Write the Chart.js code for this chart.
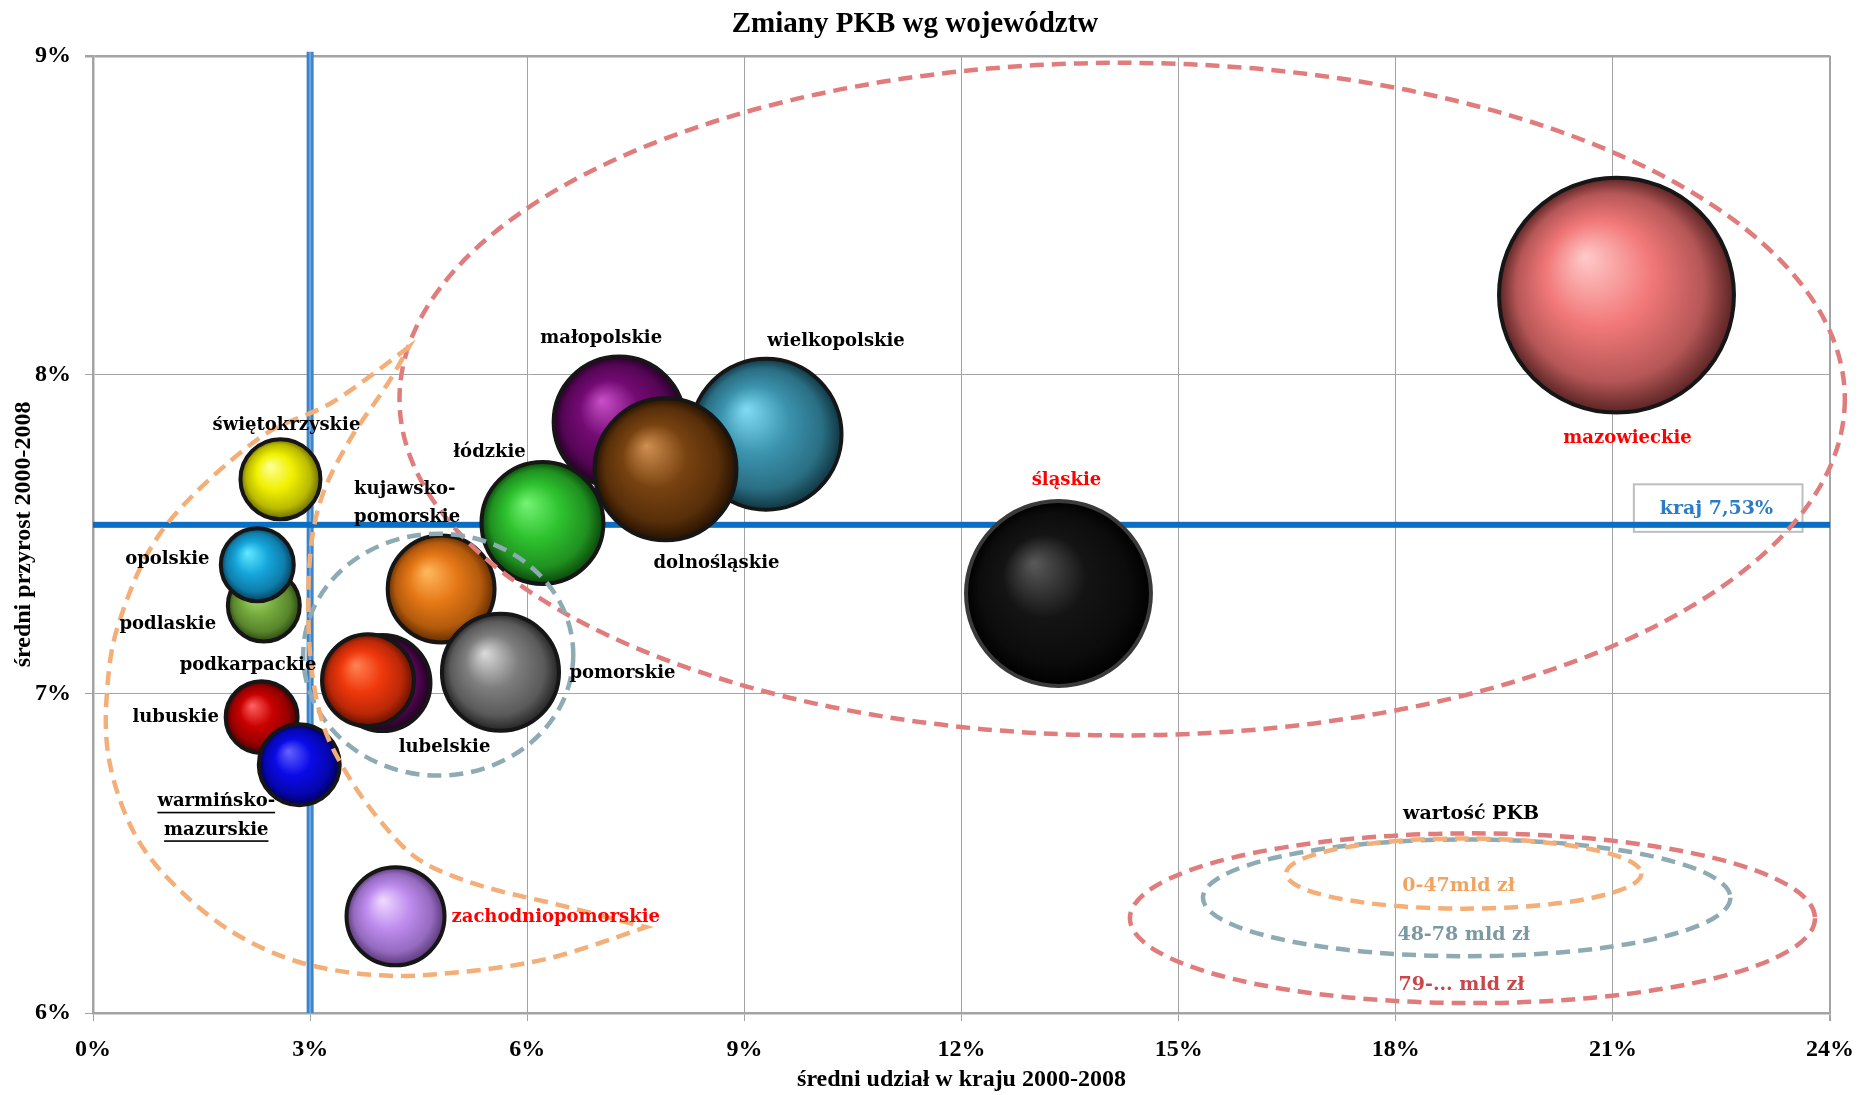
<!DOCTYPE html>
<html>
<head>
<meta charset="utf-8">
<script src="https://cdn.jsdelivr.net/npm/chart.js@4.4.1/dist/chart.umd.min.js"></script>
<style>
html,body{margin:0;padding:0;background:#fff;overflow:hidden}
canvas{display:block}
</style>
</head>
<body>
<canvas id="c" width="1858" height="1095"></canvas>
<script>
// ---------------- DATA ----------------
const regions = ['mazowieckie','śląskie','wielkopolskie','małopolskie','kujawsko-pomorskie','łódzkie','dolnośląskie','pomorskie','lubelskie','podkarpackie','podlaskie','opolskie','lubuskie','warmińsko-mazurskie','świętokrzyskie','zachodniopomorskie'];
// średni udział w kraju 2000-2008 (%)
const shareOfCountry = [21.05,13.34,9.30,7.27,4.81,6.21,7.91,5.63,4.00,3.80,2.36,2.27,2.33,2.85,2.59,4.18];
// średni przyrost 2000-2008 (%)
const avgGrowth = [8.25,7.315,7.814,7.852,7.329,7.536,7.704,7.068,7.034,7.043,7.277,7.405,6.927,6.778,7.673,6.303];
// wartość PKB (mld zł) -> bubble area
const gdpValue = [288,180,121,92,62,80,107.5,74,50.4,46.5,29.1,29.9,29.1,36.4,35.6,52.5];
const xTickValues = [0,3,6,9,12,15,18,21,24];
const yTickValues = [6,7,8,9];
const nationalGrowth = 7.53;
const thresholdShare = 3;
const gdpClassLabels = ['0-47mld zł','48-78 mld zł','79-... mld zł'];
const legendTitle = 'wartość PKB';

// ---------------- STYLE / LAYOUT ----------------
const K = 7.04; // px per sqrt(mld zł)
const BW = 4;
function bubbleRadius(v){ return Math.sqrt(v)*K - BW/2; }

const regionStyle = {
  'mazowieckie': {fill:'#F27878', hi:'#FFCACA', lo:'#5A2424', label:'#FF0000', dx:11, dy:[143]},
  'śląskie': {fill:'#141414', hi:'#5A5A5A', lo:'#000000', border:'#3A3A3A', label:'#FF0000', dx:8, dy:[-113]},
  'wielkopolskie': {fill:'#3B93AE', hi:'#80DCF4', lo:'#103642', dx:70, dy:[-93]},
  'małopolskie': {fill:'#740A74', hi:'#C850C8', lo:'#280028', dx:-18, dy:[-84]},
  'kujawsko-pomorskie': {fill:'#E67816', hi:'#FFBA60', lo:'#642C00', lines:['kujawsko-','pomorskie'], dx:-87, dy:[-100,-72], align:'left'},
  'łódzkie': {fill:'#2EC22E', hi:'#76F476', lo:'#0A460A', dx:-53, dy:[-71]},
  'dolnośląskie': {fill:'#784210', hi:'#D09050', lo:'#281200', dx:51, dy:[94]},
  'pomorskie': {fill:'#7E7E7E', hi:'#DCDCDC', lo:'#242424', dx:69, dy:[1], align:'left'},
  'lubelskie': {fill:'#6C0A6C', hi:'#B042B0', lo:'#200020', dx:62, dy:[64]},
  'podkarpackie': {fill:'#F0380C', hi:'#FF8454', lo:'#661000', dx:-120, dy:[-15]},
  'podlaskie': {fill:'#76AC3E', hi:'#B2E27E', lo:'#2A4810', dx:-96, dy:[19]},
  'opolskie': {fill:'#15A6DC', hi:'#64EAFF', lo:'#05405E', dx:-90, dy:[-5]},
  'lubuskie': {fill:'#CA0000', hi:'#FF6464', lo:'#480000', dx:-86, dy:[0]},
  'warmińsko-mazurskie': {fill:'#0A0AE8', hi:'#6464FF', lo:'#000058', lines:['warmińsko-','mazurskie'], dx:-83, dy:[37,65.5], underline:true},
  'świętokrzyskie': {fill:'#F0F000', hi:'#FFFF9C', lo:'#686800', dx:6, dy:[-54]},
  'zachodniopomorskie': {fill:'#BE8CEE', hi:'#F0DCFF', lo:'#583878', label:'#FF0000', dx:56, dy:[1], align:'left'}
};

// annotation shapes (in data units)
const bigRedEllipse = {cx:14.22, cy:7.924, rx:9.985, ry:1.054};
const grayEllipse = {cx:4.77, cy:7.123, rx:1.866, ry:0.379};
const orangeOuter = [[4.363,8.087],[3.313,7.915],[2.262,7.796],[0.991,7.523],[0.369,7.231],[0.189,6.990],[0.231,6.783],[0.549,6.573],[1.060,6.416],[1.889,6.259],[2.857,6.159],[3.962,6.118],[5.068,6.128],[6.312,6.172],[7.638,6.269]];
const orangeInner = [[7.638,6.269],[6.450,6.338],[5.345,6.400],[4.515,6.479],[3.962,6.604],[3.478,6.761],[3.161,6.918],[2.995,7.137],[2.995,7.420],[3.161,7.617],[3.548,7.796],[4.060,7.968],[4.363,8.087]];
const legendEllipses = [
  {cx:18.94, cy:6.437, rx:2.454, ry:0.110, color:'#F4AE78', text:'#F0A462', tx:18.87, ty:6.397},
  {cx:18.98, cy:6.361, rx:3.644, ry:0.183, color:'#8EABB4', text:'#7A99A3', tx:18.94, ty:6.244},
  {cx:19.06, cy:6.297, rx:4.733, ry:0.266, color:'#E07C7C', text:'#C8474A', tx:18.91, ty:6.087}
];
const legendTitlePos = {x:19.04, y:6.625};
const krajBox = {x1:21.29, x2:23.62, yTop:7.657, yBottom:7.508, tx:22.43, ty:7.578};

const ORANGE = '#F4AE78', GRAY = '#8EABB4', RED = '#E07C7C';

function hexToRgb(h){ h=h.replace('#',''); return [parseInt(h.substr(0,2),16),parseInt(h.substr(2,2),16),parseInt(h.substr(4,2),16)]; }
function mix(a,b,t){ const A=hexToRgb(a),B=hexToRgb(b); return 'rgb('+A.map((v,i)=>Math.round(v+(B[i]-v)*t)).join(',')+')'; }

function sphereFill(c){
  const i = c.dataIndex; const st = regionStyle[regions[i]];
  const chart = c.chart;
  if (c.type !== 'data' || !chart.chartArea) return st.fill;
  const cx = chart.scales.x.getPixelForValue(shareOfCountry[i]);
  const cy = chart.scales.y.getPixelForValue(avgGrowth[i]);
  const r = bubbleRadius(gdpValue[i]);
  if (!isFinite(cx) || !isFinite(cy)) return st.fill;
  const g = chart.ctx.createRadialGradient(cx - r*0.27, cy - r*0.33, 0, cx, cy, r);
  g.addColorStop(0, st.hi);
  g.addColorStop(0.45, st.fill);
  g.addColorStop(0.8, mix(st.fill, st.lo, 0.4));
  g.addColorStop(1, st.lo);
  return g;
}

function smoothTo(ctx, pts){
  for (let i = 0; i < pts.length - 1; i++) {
    const p0 = pts[i-1] || pts[i], p1 = pts[i], p2 = pts[i+1], p3 = pts[i+2] || pts[i+1];
    ctx.bezierCurveTo(p1[0] + (p2[0]-p0[0])/6, p1[1] + (p2[1]-p0[1])/6,
                      p2[0] - (p3[0]-p1[0])/6, p2[1] - (p3[1]-p1[1])/6, p2[0], p2[1]);
  }
}

function drawEllipse(ctx, xs, ys, e, color){
  const cx = xs.getPixelForValue(e.cx), cy = ys.getPixelForValue(e.cy);
  const rx = Math.abs(xs.getPixelForValue(e.cx + e.rx) - cx);
  const ry = Math.abs(ys.getPixelForValue(e.cy + e.ry) - cy);
  ctx.strokeStyle = color;
  ctx.beginPath(); ctx.ellipse(cx, cy, rx, ry, 0, 0, Math.PI*2); ctx.stroke();
}

const overlay = {
  id: 'overlay',
  beforeDatasetsDraw(chart){
    const {ctx, chartArea: a, scales: {x, y}} = chart;
    ctx.save();
    // kraj box
    const bx1 = x.getPixelForValue(krajBox.x1), bx2 = x.getPixelForValue(krajBox.x2);
    const by1 = y.getPixelForValue(krajBox.yTop), by2 = y.getPixelForValue(krajBox.yBottom);
    ctx.fillStyle = '#FFFFFF'; ctx.fillRect(bx1, by1, bx2-bx1, by2-by1);
    ctx.strokeStyle = '#BEBEBE'; ctx.lineWidth = 2; ctx.strokeRect(bx1, by1, bx2-bx1, by2-by1);
    ctx.fillStyle = '#2A7CC6';
    ctx.font = 'bold 19px "DejaVu Serif"';
    ctx.textAlign = 'center'; ctx.textBaseline = 'middle';
    ctx.fillText('kraj ' + nationalGrowth.toFixed(2).replace('.', ',') + '%', x.getPixelForValue(krajBox.tx), y.getPixelForValue(krajBox.ty));
    // reference lines
    const vx = x.getPixelForValue(thresholdShare);
    ctx.fillStyle = '#3A84CC'; ctx.fillRect(vx - 3.5, a.top - 4, 7, a.bottom - a.top + 4);
    ctx.fillStyle = '#6FA6DC'; ctx.fillRect(vx - 1, a.top - 4, 2, a.bottom - a.top + 4);
    const hy = y.getPixelForValue(nationalGrowth);
    ctx.fillStyle = '#0A6FC2'; ctx.fillRect(a.left, hy - 3, a.right - a.left, 6);
    ctx.restore();
  },
  afterDatasetsDraw(chart){
    const {ctx, scales: {x, y}} = chart;
    ctx.save();
    ctx.lineWidth = 4.5;
    ctx.setLineDash([14, 8]);
    drawEllipse(ctx, x, y, bigRedEllipse, RED);
    drawEllipse(ctx, x, y, grayEllipse, GRAY);
    // orange crescent
    const toPx = p => [x.getPixelForValue(p[0]), y.getPixelForValue(p[1])];
    const outer = orangeOuter.map(toPx), inner = orangeInner.map(toPx);
    ctx.strokeStyle = ORANGE;
    ctx.beginPath(); ctx.moveTo(outer[0][0], outer[0][1]);
    smoothTo(ctx, outer); smoothTo(ctx, inner); ctx.closePath(); ctx.stroke();
    // legend ellipses
    legendEllipses.slice().reverse().forEach(e => drawEllipse(ctx, x, y, e, e.color));
    ctx.setLineDash([]);
    // legend texts
    ctx.textAlign = 'center'; ctx.textBaseline = 'middle';
    ctx.font = 'bold 19px "DejaVu Serif"';
    ctx.fillStyle = '#000';
    ctx.fillText(legendTitle, x.getPixelForValue(legendTitlePos.x), y.getPixelForValue(legendTitlePos.y));
    legendEllipses.forEach((e, k) => {
      ctx.fillStyle = e.text;
      ctx.fillText(gdpClassLabels[k], x.getPixelForValue(e.tx), y.getPixelForValue(e.ty));
    });
    // bubble labels
    ctx.font = 'bold 18px "DejaVu Serif"';
    regions.forEach((name, i) => {
      const st = regionStyle[name];
      const cx = x.getPixelForValue(shareOfCountry[i]), cy = y.getPixelForValue(avgGrowth[i]);
      const lines = st.lines || [name];
      ctx.fillStyle = st.label || '#000';
      ctx.textAlign = st.align || 'center';
      lines.forEach((t, k) => {
        const tx = cx + st.dx, ty = cy + st.dy[k];
        ctx.fillText(t, tx, ty);
        if (st.underline) {
          const w = ctx.measureText(t).width;
          ctx.fillRect(tx - w/2, ty + 10, w, 1.6);
        }
      });
    });
    ctx.restore();
  }
};

Chart.defaults.font.family = '"Liberation Serif", "Times New Roman", serif';
Chart.defaults.color = '#000';

new Chart(document.getElementById('c'), {
  type: 'bubble',
  data: {
    datasets: [{
      label: 'PKB',
      data: regions.map((n, i) => ({x: shareOfCountry[i], y: avgGrowth[i], r: bubbleRadius(gdpValue[i])})),
      backgroundColor: sphereFill,
      borderColor: c => (regionStyle[regions[c.dataIndex]] || {}).border || '#161616',
      borderWidth: BW,
      hoverBorderWidth: BW,
      clip: false
    }]
  },
  options: {
    responsive: false,
    animation: false,
    events: [],
    layout: {autoPadding: false, padding: {left: 0, right: 28, top: 0, bottom: 0}},
    plugins: {
      legend: {display: false},
      tooltip: {enabled: false},
      title: {
        display: true,
        text: 'Zmiany PKB wg województw',
        font: {size: 29, weight: 'bold'},
        color: '#000',
        padding: {top: 7, bottom: 14}
      }
    },
    scales: {
      x: {
        type: 'linear',
        min: xTickValues[0], max: xTickValues[xTickValues.length-1],
        afterBuildTicks: s => { s.ticks = xTickValues.map(v => ({value: v})); },
        ticks: {callback: v => v + '%', font: {size: 24, weight: 'bold'}, color: '#000', padding: 14, maxRotation: 0, autoSkip: false},
        grid: {color: '#A3A3A3', lineWidth: c => (c.tick && c.tick.value === 24) ? 2 : 1, tickLength: 8, tickColor: '#A3A3A3'},
        border: {color: '#A3A3A3', width: 2.5},
        title: {display: true, text: 'średni udział w kraju 2000-2008', font: {size: 24, weight: 'bold'}, color: '#000', padding: {top: 0, bottom: 1}},
        afterFit: s => { s.height = 82; s.paddingLeft = 0; s.paddingRight = 0; }
      },
      y: {
        type: 'linear',
        min: yTickValues[0], max: yTickValues[yTickValues.length-1],
        afterBuildTicks: s => { s.ticks = yTickValues.map(v => ({value: v})); },
        ticks: {callback: v => v + '%', font: {size: 24, weight: 'bold'}, color: '#000', padding: 14, autoSkip: false},
        grid: {color: '#A3A3A3', lineWidth: c => (c.tick && c.tick.value === 9) ? 2.5 : 1, tickLength: 8, tickColor: '#A3A3A3'},
        border: {color: '#A3A3A3', width: 2.5},
        title: {display: true, text: 'średni przyrost 2000-2008', font: {size: 24, weight: 'bold'}, color: '#000', padding: {top: 9, bottom: 0}},
        afterFit: s => { s.width = 93; s.paddingTop = 0; s.paddingBottom = 0; }
      }
    }
  },
  plugins: [overlay]
});
</script>
</body>
</html>
